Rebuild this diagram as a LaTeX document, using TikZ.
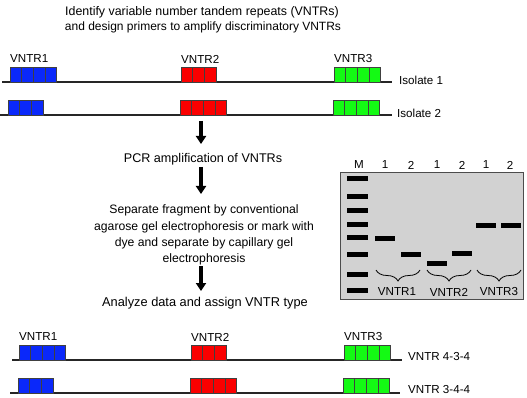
\documentclass[tikz,border=0pt]{standalone}
\usepackage{fontspec}
\setmainfont{Liberation Sans}
\usetikzlibrary{arrows.meta, decorations.pathreplacing, positioning}

\definecolor{repblue}{RGB}{10,40,250}
\definecolor{repred}{RGB}{250,0,0}
\definecolor{repgreen}{RGB}{20,250,20}
\definecolor{gelgray}{RGB}{210,210,210}

% a block of tandem repeats: left x, base y, count, colour
\newcommand{\repeatblock}[4]{%
  \foreach \k in {1,...,#3}{
    \draw[cell, fill=#4] ({#1+(\k-1)*11.6},#2) rectangle ++(11.6,-15);
  }%
}

\begin{document}
\begin{tikzpicture}[x=1pt, y=-1pt,
  every node/.style={font=\fontsize{11.6}{15}\selectfont, inner sep=0pt},
  steptext/.style={font=\fontsize{12.2}{16.3}\selectfont, align=center},
  chrom/.style={line width=1.1pt, black!85},
  cell/.style={draw=black!75, line width=0.6pt},
  flowarrow/.style={-{Triangle[width=10pt,length=8pt]}, line width=3.6pt},
  band/.style={fill=black, minimum width=21pt, minimum height=5pt},
  lane/.style={fill=black, minimum width=20pt, minimum height=5pt},
  gelbrace/.style={decorate, decoration={brace, mirror, amplitude=11pt}, line width=0.8pt}
]
\useasboundingbox (0,0) rectangle (527,398);

% steps of the method
\node[steptext, font=\fontsize{12.4}{15}\selectfont] (title1) at (202,12)
  {Identify variable number tandem repeats (VNTRs)};
\node[steptext, font=\fontsize{12}{15}\selectfont] (title2) at (203,27)
  {and design primers to amplify discriminatory VNTRs};
\node[steptext, font=\fontsize{12.6}{15}\selectfont] (pcr) at (203,159) {PCR amplification of VNTRs};
\node[steptext] (separate) at (204,235)
  {Separate fragment by conventional\\agarose gel electrophoresis or mark with\\dye and separate by capillary gel\\electrophoresis};
\node[steptext, font=\fontsize{12.8}{15}\selectfont] (analyze) at (205,303) {Analyze data and assign VNTR type};

% isolates
\draw[chrom] (2,82) -- (392,82);
\repeatblock{10}{82}{4}{repblue}
\repeatblock{181}{82}{3}{repred}
\repeatblock{334}{82}{4}{repgreen}
\node[anchor=west] (lab1a) at (10,59) {VNTR1};
\node[anchor=west] (lab2a) at (181,59) {VNTR2};
\node[anchor=west] (lab3a) at (334,59) {VNTR3};
\node[anchor=west] (iso1) at (399,80) {Isolate 1};

\draw[chrom] (0,115) -- (392,115);
\repeatblock{8}{115}{3}{repblue}
\repeatblock{180}{115}{4}{repred}
\repeatblock{333}{115}{4}{repgreen}
\node[anchor=west] (iso2) at (397,113) {Isolate 2};

% arrows between steps
\coordinate (a1) at (201,121);
\coordinate (b1) at (201,144);
\coordinate (a2) at (201,167);
\coordinate (b2) at (201,194);
\coordinate (a3) at (201,266);
\coordinate (b3) at (201,291);
\draw[flowarrow] (a1) -- (b1);
\draw[flowarrow] (a2) -- (b2);
\draw[flowarrow] (a3) -- (b3);

% gel
\draw[fill=gelgray, draw=black!70, line width=0.8pt] (340,172) rectangle (523,299);
\node (hm) at (359,165) {M};
\foreach \x/\t [count=\i] in {385/1, 411/2, 437/1, 462/2, 486/1, 510/2}
  \node (h\i) at (\x,165) {\t};
\foreach \y in {179,197,210,224,237,254,274,290}
  \node[band] (m\y) at (357.5,\y) {};
\foreach \x/\y [count=\i] in {385/238, 411/254, 437/263, 462/253, 486/225, 511/225}
  \node[lane] (l\i) at (\x,\y) {};
\draw[gelbrace] (376,270) -- (420,270);
\draw[gelbrace] (427,270) -- (471,270);
\draw[gelbrace] (477,270) -- (521,270);
\node (g1) at (397,292) {VNTR1};
\node (g2) at (449,292) {VNTR2};
\node (g3) at (499,292) {VNTR3};

% typed VNTRs
\draw[chrom] (12,360) -- (402,360);
\repeatblock{19}{360}{4}{repblue}
\repeatblock{191}{360}{3}{repred}
\repeatblock{344}{360}{4}{repgreen}
\node[anchor=west] (lab1b) at (19,337) {VNTR1};
\node[anchor=west] (lab2b) at (191,337) {VNTR2};
\node[anchor=west] (lab3b) at (344,337) {VNTR3};
\node[anchor=west] (type1) at (408,357) {VNTR 4-3-4};

\draw[chrom] (10,393) -- (400,393);
\repeatblock{18}{393}{3}{repblue}
\repeatblock{190}{393}{4}{repred}
\repeatblock{343}{393}{4}{repgreen}
\node[anchor=west] (type2) at (408,390) {VNTR 3-4-4};
\end{tikzpicture}
\end{document}
